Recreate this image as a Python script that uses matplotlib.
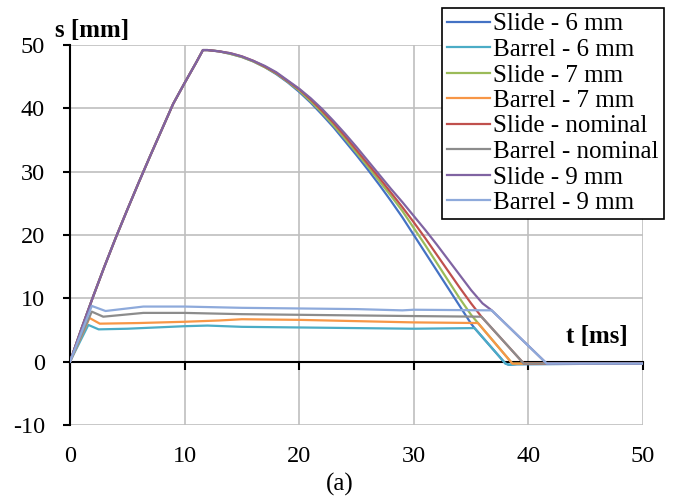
import matplotlib
matplotlib.use("Agg")
import matplotlib.pyplot as plt

plt.rcParams['font.family'] = ['Liberation Serif', 'DejaVu Serif']
plt.rcParams['axes.unicode_minus'] = False

# ---- data (t in ms, s in mm) ----
rise_t = [0, 1, 2, 3, 4, 5, 6, 7, 8, 9, 10, 11, 11.6]
rise_s = [0, 5.2, 10.2, 15.0, 19.6, 24.0, 28.3, 32.5, 36.6, 40.7, 44.0, 47.2, 49.2]

slide_6_t = rise_t + [12, 13, 14, 15, 16, 17, 18, 19, 20, 21, 22, 23, 24, 25, 26, 27, 28, 29, 30, 31, 32, 33, 34, 35, 35.3, 38.0, 38.3, 39.0, 50]
slide_6_s = rise_s + [49.2, 49.0, 48.6, 48.1, 47.4, 46.5, 45.4, 44.1, 42.6, 40.9, 39.0, 37.0, 34.8, 32.6, 30.3, 27.9, 25.4, 22.8, 20.0, 17.2, 14.4, 11.6, 8.8, 6.0, 5.3, -0.3, -0.5, -0.4, -0.3]
barrel_6_t = [0, 1.6, 2.5, 5.0, 10.0, 12.0, 15.0, 20.0, 25.0, 30.0, 35.3, 38.0, 38.3, 39.0, 50]
barrel_6_s = [0, 5.8, 5.1, 5.2, 5.6, 5.7, 5.5, 5.4, 5.3, 5.2, 5.3, -0.3, -0.5, -0.4, -0.3]

slide_7_t = rise_t + [12, 13, 14, 15, 16, 17, 18, 19, 20, 21, 22, 23, 24, 25, 26, 27, 28, 29, 30, 31, 32, 33, 34, 35, 35.6, 38.6, 50]
slide_7_s = rise_s + [49.2, 49.0, 48.6, 48.1, 47.4, 46.5, 45.5, 44.2, 42.8, 41.1, 39.3, 37.3, 35.2, 33.0, 30.8, 28.5, 26.2, 23.8, 21.1, 18.4, 15.6, 12.8, 10.0, 7.4, 6.1, -0.3, -0.3]
barrel_7_t = [0, 1.7, 2.6, 6.0, 10.0, 13.0, 15.0, 20.0, 25.0, 30.0, 35.6, 38.6, 50]
barrel_7_s = [0, 6.9, 6.0, 6.1, 6.3, 6.5, 6.7, 6.6, 6.4, 6.2, 6.1, -0.3, -0.3]

slide_nom_t = rise_t + [12, 13, 14, 15, 16, 17, 18, 19, 20, 21, 22, 23, 24, 25, 26, 27, 28, 29, 30, 31, 32, 33, 34, 35, 35.9, 39.6, 50]
slide_nom_s = rise_s + [49.2, 49.0, 48.7, 48.2, 47.5, 46.6, 45.6, 44.3, 43.0, 41.4, 39.6, 37.7, 35.6, 33.4, 31.2, 29.0, 26.7, 24.4, 22.0, 19.5, 16.9, 14.3, 11.7, 9.2, 7.1, -0.3, -0.3]
barrel_nom_t = [0, 1.9, 2.9, 6.4, 10.0, 15.0, 20.0, 25.0, 30.0, 35.9, 39.6, 50]
barrel_nom_s = [0, 7.9, 7.1, 7.7, 7.7, 7.5, 7.4, 7.3, 7.2, 7.1, -0.3, -0.3]

slide_9_t = rise_t + [12, 13, 14, 15, 16, 17, 18, 19, 20, 21, 22, 23, 24, 25, 26, 27, 28, 29, 30, 31, 32, 33, 34, 35, 36, 36.8, 41.6, 50]
slide_9_s = rise_s + [49.2, 49.0, 48.7, 48.2, 47.5, 46.7, 45.7, 44.4, 43.1, 41.6, 39.9, 38.0, 36.0, 33.9, 31.7, 29.5, 27.3, 25.2, 23.0, 20.8, 18.5, 16.1, 13.7, 11.3, 9.2, 8.1, -0.3, -0.3]
barrel_9_t = [0, 1.9, 3.1, 6.4, 10.0, 15.0, 20.0, 25.0, 29.0, 30.0, 36.8, 41.6, 50]
barrel_9_s = [0, 8.8, 8.0, 8.7, 8.7, 8.5, 8.4, 8.3, 8.1, 8.2, 8.1, -0.3, -0.3]

labels = ["Slide - 6 mm", "Barrel - 6 mm", "Slide - 7 mm", "Barrel - 7 mm",
          "Slide - nominal", "Barrel - nominal", "Slide - 9 mm", "Barrel - 9 mm"]
colors = ["#4472C4", "#4BACC6", "#9BBB59", "#F79646",
          "#C0504D", "#8C8C8C", "#8064A2", "#8EAADB"]
series = [(slide_6_t, slide_6_s), (barrel_6_t, barrel_6_s),
          (slide_7_t, slide_7_s), (barrel_7_t, barrel_7_s),
          (slide_nom_t, slide_nom_s), (barrel_nom_t, barrel_nom_s),
          (slide_9_t, slide_9_s), (barrel_9_t, barrel_9_s)]

x_ticks = [0, 10, 20, 30, 40, 50]
y_ticks = [-10, 0, 10, 20, 30, 40, 50]

fig = plt.figure(figsize=(6.8, 4.99), dpi=100)
ax = fig.add_axes([70/680, 1-425/499, (643-70)/680, (425-45)/499])
ax.set_xlim(0, 50)
ax.set_ylim(-10, 50)
ax.set_xticks(x_ticks)
ax.set_yticks(y_ticks)
ax.grid(True, color="#BFBFBF", lw=1.2, zorder=0)
ax.set_axisbelow(True)

for (t, s), c, lab in zip(series, colors, labels):
    ax.plot(t, s, color=c, lw=1.6, label=lab, zorder=3,
            solid_joinstyle='round')

for sp in ['top', 'right']:
    ax.spines[sp].set_visible(False)
ax.spines['bottom'].set_position(('data', 0))
ax.spines['bottom'].set_linewidth(1.5)
ax.spines['bottom'].set_zorder(2.5)
ax.spines['left'].set_linewidth(1.5)
ax.tick_params(axis='x', direction='out', length=6, width=1.5, labelbottom=False)
ax.tick_params(axis='y', direction='out', length=5, width=1.5, labelsize=17.5, pad=13)

for v in x_ticks:
    ax.annotate(str(v), xy=(v, -10), xytext=(0, -15), textcoords='offset points',
                ha='center', va='top', fontsize=17.5, annotation_clip=False)

fig.text(55/680, 1-30/499, "s [mm]", fontsize=18, fontweight='bold', ha='left', va='center')
fig.text(566/680, 1-336/499, "t [ms]", fontsize=18, fontweight='bold', ha='left', va='center')
fig.text(340/680, 1-484/499, "(a)", fontsize=18, ha='center', va='center')

leg = fig.legend(loc='upper left', bbox_to_anchor=(442/680, 1-8/499), fontsize=18,
                 frameon=True, fancybox=False, framealpha=1, edgecolor='black',
                 borderpad=0.2, labelspacing=0.12, handlelength=1.7, handletextpad=0.15,
                 borderaxespad=0)
leg.get_frame().set_linewidth(1.2)

fig.savefig("out.png", dpi=100)
